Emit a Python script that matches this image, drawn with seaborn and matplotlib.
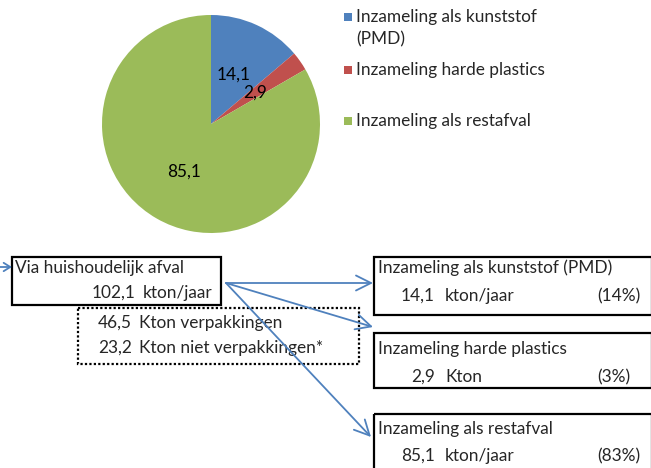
import matplotlib
matplotlib.use("Agg")
import matplotlib.pyplot as plt
import seaborn as sns
from matplotlib.patches import Rectangle

# ---- data ----
categories = ["Inzameling als kunststof (PMD)", "Inzameling harde plastics", "Inzameling als restafval"]
legend_labels = ["Inzameling als kunststof\n(PMD)", "Inzameling harde plastics", "Inzameling als restafval"]
values = [14.1, 2.9, 85.1]
units = ["kton/jaar", "Kton", "kton/jaar"]
shares = ["(14%)", "(3%)", "(83%)"]
total_value = 102.1
total_label = "Via huishoudelijk afval"
total_unit = "kton/jaar"
sub_values = [46.5, 23.2]
sub_labels = ["Kton verpakkingen", "Kton niet verpakkingen*"]
colors = ["#4F81BD", "#C0504D", "#9BBB59"]

def fmt(v):
    return f"{v:.1f}".replace(".", ",")

sns.set_theme(style="white")
plt.rcParams["font.family"] = ["Lato", "DejaVu Sans"]
FS = 12.4

W, H = 651, 468
fig = plt.figure(figsize=(W / 100, H / 100), dpi=100)
fig.patch.set_facecolor("white")

# overlay axes in pixel coordinates
ov = fig.add_axes([0, 0, 1, 1])
ov.set_xlim(0, W)
ov.set_ylim(H, 0)
ov.axis("off")

# ---- pie ----
cx, cy, r = 211, 124, 109
pax = fig.add_axes([(cx - r) / W, (H - cy - r) / H, 2 * r / W, 2 * r / H])
wedges, _, autotexts = pax.pie(
    values, colors=colors, startangle=90, counterclock=False,
    autopct=lambda p: fmt(p * sum(values) / 100), pctdistance=0.5,
    textprops=dict(fontsize=FS, color="black"),
    wedgeprops=dict(linewidth=0),
)
pax.set_xlim(-1, 1)
pax.set_ylim(-1, 1)
pax.set_aspect("equal")

# ---- legend ----
leg_y = [28, 70, 121]
for col, lab, y in zip(colors, legend_labels, leg_y):
    ov.add_patch(Rectangle((344, y - 4 - (11 if "\n" in lab else 0)), 8, 8, facecolor=col, edgecolor="none"))
    ov.text(356, y, lab, fontsize=FS, va="center", ha="left", linespacing=1.45)

# ---- boxes ----
def box(x0, y0, x1, y1, ls="-"):
    ov.add_patch(Rectangle((x0, y0), x1 - x0, y1 - y0, fill=False, edgecolor="black",
                           linewidth=1.6, linestyle=ls, clip_on=False))

box(12, 257, 221, 305)
ov.text(15, 268, total_label, fontsize=FS, va="center")
ov.text(135, 293, fmt(total_value), fontsize=FS, va="center", ha="right")
ov.text(143, 293, total_unit, fontsize=FS, va="center")

box(78, 308, 359, 364, ls=(0, (1, 1)))
for v, lab, y in zip(sub_values, sub_labels, [323, 348]):
    ov.text(132, y, fmt(v), fontsize=FS, va="center", ha="right")
    ov.text(139, y, lab, fontsize=FS, va="center")

box_tops = [257, 333, 414]
box_bots = [315, 388, 480]
title_y = [268, 349, 429]
value_y = [296, 377, 456]
for cat, v, u, s, t, b, ty, vy in zip(categories, values, units, shares,
                                      box_tops, box_bots, title_y, value_y):
    box(374, t, 652, b)
    ov.text(378, ty, cat, fontsize=FS, va="center")
    ov.text(435, vy, fmt(v), fontsize=FS, va="center", ha="right")
    ov.text(445, vy, u, fontsize=FS, va="center")
    ov.text(597, vy, s, fontsize=FS, va="center")

# ---- arrows ----
arrow_col = "#4F81BD"
src = (226, 283)
for tgt in [(373, 283), (373, 327), (371, 437)]:
    ov.annotate("", xy=tgt, xytext=src,
                arrowprops=dict(arrowstyle="->,head_length=0.9,head_width=0.45",
                                color=arrow_col, lw=1.3, shrinkA=0, shrinkB=0))
ov.annotate("", xy=(12, 267), xytext=(0, 267),
            arrowprops=dict(arrowstyle="->,head_length=0.4,head_width=0.25",
                            color=arrow_col, lw=1.3, shrinkA=0, shrinkB=0))

fig.savefig("out.png", dpi=100, facecolor="white")
